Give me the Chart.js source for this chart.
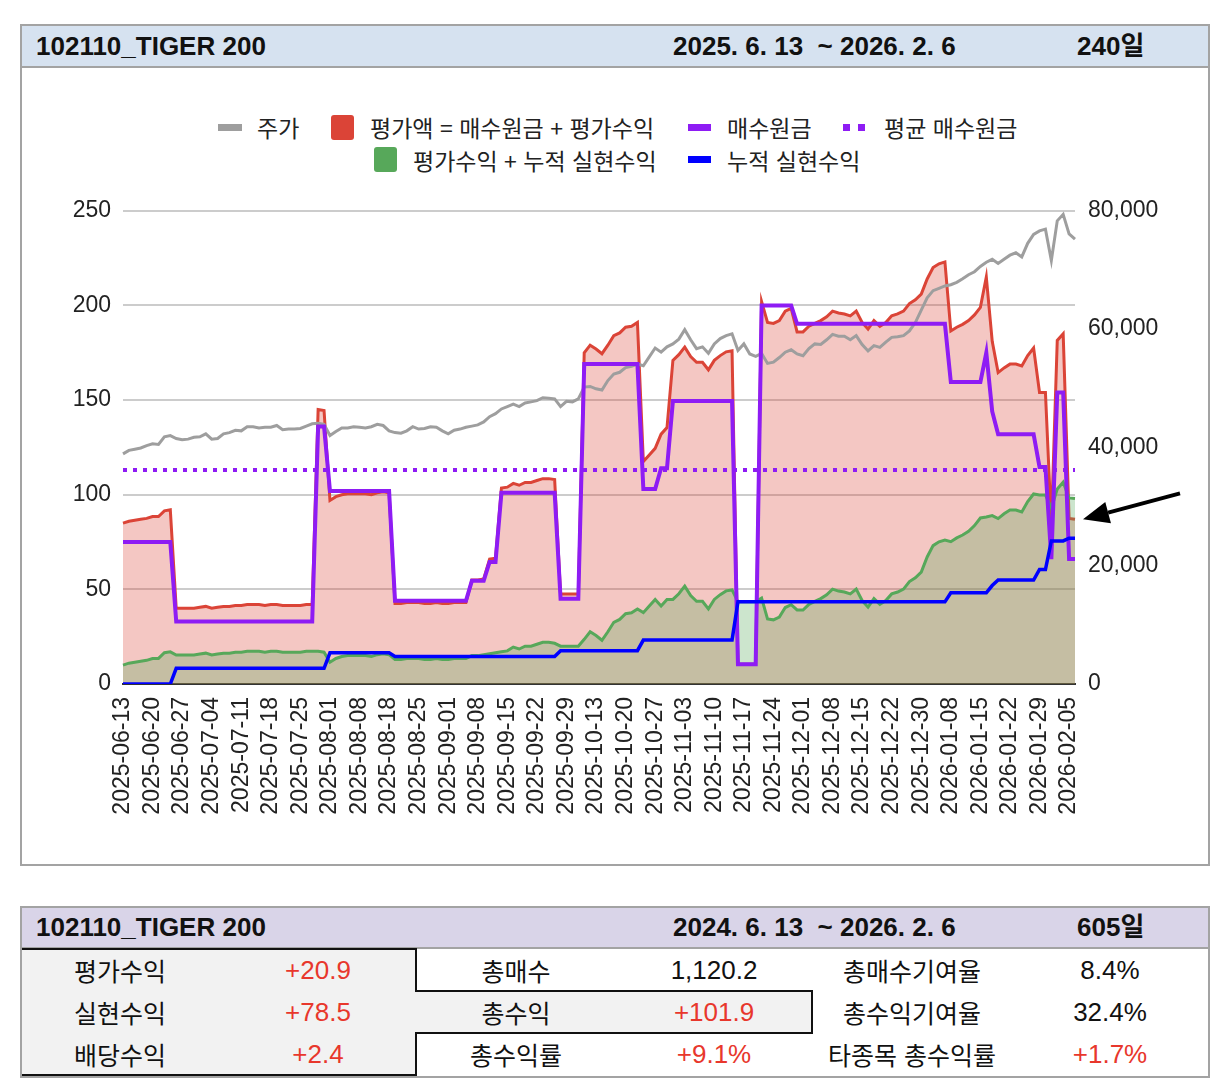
<!DOCTYPE html>
<html lang="ko">
<head>
<meta charset="utf-8">
<title>102110_TIGER 200</title>
<script src="https://cdn.jsdelivr.net/npm/chart.js@4.4.1/dist/chart.umd.min.js"></script>
<style>
body { margin: 0; width: 1228px; height: 1092px; position: relative; background: #fff;
  font-family: "Liberation Sans", Arial, "Noto Sans CJK KR", sans-serif; color: #111; }
.frame { position: absolute; box-sizing: border-box; border: 2px solid #a3a3a3; }
.bar { position: absolute; box-sizing: border-box; border-bottom: 2px solid #a3a3a3; }
.bar span { position: absolute; top: 0; font-size: 26px; font-weight: bold; white-space: nowrap; }
.leg { position: absolute; font-family: "Noto Sans CJK KR", sans-serif; font-size: 23px; color: #222;
  line-height: 24px; white-space: nowrap; }
.mk { position: absolute; }
.cell { position: absolute; width: 198px; height: 42px; line-height: 42px; text-align: center; white-space: nowrap; }
.lbl { font-family: "Noto Sans CJK KR", sans-serif; font-size: 25px; }
.val { font-size: 26px; }
.red { color: #e8372c; }
.ln { position: absolute; background: #111; }
#chart { position: absolute; left: 21px; top: 184px; }
</style>
</head>
<body>

<!-- chart panel -->
<div class="frame" style="left:20px;top:24px;width:1190px;height:842px;"></div>
<div class="bar" style="left:22px;top:26px;width:1186px;height:42px;background:#d6e2f0;">
  <span style="left:14px;line-height:40px;">102110_TIGER 200</span>
  <span style="left:651px;line-height:40px;">2025. 6. 13 &nbsp;~ 2026. 2. 6</span>
  <span style="left:1055px;line-height:40px;">240일</span>
</div>

<!-- legend -->
<div class="mk" style="left:218px;top:124px;width:24px;height:7px;background:#9e9e9e;"></div>
<div class="leg" style="left:257px;top:115px;">주가</div>
<div class="mk" style="left:331px;top:115px;width:23px;height:25px;border-radius:3px;background:#db4437;"></div>
<div class="leg" style="left:370px;top:115px;">평가액 = 매수원금 + 평가수익</div>
<div class="mk" style="left:688px;top:124px;width:23px;height:7px;background:#8e1cf4;"></div>
<div class="leg" style="left:727px;top:115px;">매수원금</div>
<div class="mk" style="left:843px;top:124px;width:7px;height:7px;background:#8e1cf4;"></div>
<div class="mk" style="left:858px;top:124px;width:7px;height:7px;background:#8e1cf4;"></div>
<div class="leg" style="left:884px;top:115px;">평균 매수원금</div>
<div class="mk" style="left:374px;top:147px;width:23px;height:25px;border-radius:3px;background:#57a85a;"></div>
<div class="leg" style="left:413px;top:148px;">평가수익 + 누적 실현수익</div>
<div class="mk" style="left:688px;top:156px;width:23px;height:7px;background:#0000ff;"></div>
<div class="leg" style="left:727px;top:148px;">누적 실현수익</div>

<canvas id="chart" width="1188" height="660"></canvas>

<!-- summary table -->
<div class="frame" style="left:20px;top:906px;width:1190px;height:172px;"></div>
<div class="bar" style="left:22px;top:908px;width:1186px;height:41px;background:#d9d4e8;">
  <span style="left:14px;line-height:39px;">102110_TIGER 200</span>
  <span style="left:651px;line-height:39px;">2024. 6. 13 &nbsp;~ 2026. 2. 6</span>
  <span style="left:1055px;line-height:39px;">605일</span>
</div>
<div style="position:absolute;left:22px;top:949px;width:395px;height:127px;background:#f2f2f2;"></div>
<div style="position:absolute;left:417px;top:991px;width:396px;height:42px;background:#f2f2f2;"></div>
<div class="ln" style="left:22px;top:948px;width:395px;height:2px;"></div>
<div class="ln" style="left:415px;top:948px;width:2px;height:44px;"></div>
<div class="ln" style="left:415px;top:1032px;width:2px;height:44px;"></div>
<div class="ln" style="left:415px;top:990px;width:398px;height:2px;"></div>
<div class="ln" style="left:811px;top:990px;width:2px;height:44px;"></div>
<div class="ln" style="left:415px;top:1032px;width:398px;height:2px;"></div>
<div class="ln" style="left:22px;top:1074px;width:395px;height:2px;"></div>

<div class="cell lbl" style="left:21px;top:949px;">평가수익</div>
<div class="cell val red" style="left:219px;top:949px;">+20.9</div>
<div class="cell lbl" style="left:417px;top:949px;">총매수</div>
<div class="cell val" style="left:615px;top:949px;">1,120.2</div>
<div class="cell lbl" style="left:813px;top:949px;">총매수기여율</div>
<div class="cell val" style="left:1011px;top:949px;">8.4%</div>

<div class="cell lbl" style="left:21px;top:991px;">실현수익</div>
<div class="cell val red" style="left:219px;top:991px;">+78.5</div>
<div class="cell lbl" style="left:417px;top:991px;">총수익</div>
<div class="cell val red" style="left:615px;top:991px;">+101.9</div>
<div class="cell lbl" style="left:813px;top:991px;">총수익기여율</div>
<div class="cell val" style="left:1011px;top:991px;">32.4%</div>

<div class="cell lbl" style="left:21px;top:1033px;">배당수익</div>
<div class="cell val red" style="left:219px;top:1033px;">+2.4</div>
<div class="cell lbl" style="left:417px;top:1033px;">총수익률</div>
<div class="cell val red" style="left:615px;top:1033px;">+9.1%</div>
<div class="cell lbl" style="left:813px;top:1033px;">타종목 총수익률</div>
<div class="cell val red" style="left:1011px;top:1033px;">+1.7%</div>

<script>
// KRX closed days inside the period
const holidays = ['2025-08-15', '2025-10-03', '2025-10-06', '2025-10-07', '2025-10-08',
    '2025-10-09', '2025-12-25', '2025-12-31', '2026-01-01'];

function tradingDays(from, to) {
    const out = [];
    const d = new Date(from + 'T00:00:00Z');
    const end = new Date(to + 'T00:00:00Z');
    while (d <= end) {
        const s = d.toISOString().slice(0, 10);
        const wd = d.getUTCDay();
        if (wd !== 0 && wd !== 6 && !holidays.includes(s)) out.push(s);
        d.setUTCDate(d.getUTCDate() + 1);
    }
    return out;
}

const dates = tradingDays('2025-06-13', '2026-02-06');

// 주가 (right axis)
const price = [
    38900, 39500, 39700, 39900, 40300, 40600, 40500, 41800, 42000, 41500,
    41300, 41400, 41700, 41800, 42300, 41400, 41500, 42300, 42500, 42900,
    42800, 43500, 43500, 43300, 43400, 43400, 43700, 43000, 43100, 43100,
    43200, 43600, 44000, 44100, 43900, 42000, 42700, 43300, 43300, 43500,
    43400, 43300, 43500, 43900, 43700, 42800, 42500, 42400, 42800, 43500,
    43100, 43200, 43500, 43400, 42800, 42300, 42900, 43100, 43400, 43600,
    43800, 44300, 45200, 45700, 46500, 46900, 47300, 46900, 47500, 47700,
    47900, 48400, 48300, 48200, 46900, 47800, 47700, 48200, 50200, 50300,
    49900, 49700, 51300, 52400, 52700, 53500, 53700, 54100, 53800, 55300,
    56800, 56100, 57000, 57500, 58300, 59900, 58200, 56700, 57000, 55900,
    57500, 58400, 58900, 59200, 56400, 57500, 55800, 55400, 55900, 54200,
    54400, 55200, 56100, 56500, 55800, 55500, 56700, 57500, 57400, 58200,
    59100, 58800, 58800, 58200, 58900, 57400, 56300, 57200, 56900, 57800,
    58600, 58700, 58900, 59700, 61100, 63200, 65300, 66500, 66900, 67300,
    67500, 67900, 68500, 69200, 69700, 70600, 71300, 71800, 71100, 71800,
    72500, 72900, 72200, 74500, 76000, 76600, 76900, 71600, 78300, 79400,
    76100, 75200
];

// 평가액 = 매수원금 + 평가수익
const valuation = [
    85, 86, 86.5, 87, 87.5, 88.5, 88.5, 91.5, 92, 40,
    40, 40, 40, 40.5, 41, 40, 40.5, 41, 41, 41.5,
    41.5, 42, 42, 42, 41.5, 42, 42, 41.5, 41.5, 41.5,
    41.5, 42, 42, 145, 144.5, 97, 99, 100, 100.5, 100.5,
    100.5, 100.5, 100, 101, 101.5, 101, 42.5, 42.5, 43, 43,
    43, 42.5, 42.5, 43, 42.5, 42.5, 43, 43, 43, 55,
    55, 55.5, 66, 66.5, 103.5, 104, 106, 105, 106.5, 106.5,
    107.5, 108.5, 108.5, 108, 47.5, 47.5, 47.5, 47.5, 175, 179,
    177, 174.5, 179, 184, 185.5, 188.5, 189, 191, 117.5, 121,
    124.5, 132, 135.5, 171, 174, 178, 173, 170, 170, 166,
    171, 173.5, 175.5, 176, 10.5, 10.5, 10.5, 10.5, 202, 191,
    190.5, 192, 197, 198.5, 186, 186, 189, 190.5, 192, 194,
    197, 196, 195.5, 194.5, 197, 191, 187.5, 192, 189, 191,
    194.5, 195.5, 197, 201, 203, 206, 214, 220, 222, 223,
    186.5, 188.5, 190, 192, 195, 199, 215, 181, 164.5, 167,
    169, 169, 168, 173.5, 177.5, 154, 154, 84, 181.5, 185,
    87.5, 87
];

// 매수원금
const principal = [
    75, 75, 75, 75, 75, 75, 75, 75, 75, 33,
    33, 33, 33, 33, 33, 33, 33, 33, 33, 33,
    33, 33, 33, 33, 33, 33, 33, 33, 33, 33,
    33, 33, 33, 136, 136, 102, 102, 102, 102, 102,
    102, 102, 102, 102, 102, 102, 44, 44, 44, 44,
    44, 44, 44, 44, 44, 44, 44, 44, 44, 54.5,
    54.5, 54.5, 64.5, 64.5, 101, 101, 101, 101, 101, 101,
    101, 101, 101, 101, 45, 45, 45, 45, 169, 169,
    169, 169, 169, 169, 169, 169, 169, 169, 103, 103,
    103, 114, 114, 149.5, 149.5, 149.5, 149.5, 149.5, 149.5, 149.5,
    149.5, 149.5, 149.5, 149.5, 10.5, 10.5, 10.5, 10.5, 200, 200,
    200, 200, 200, 200, 190.3, 190.3, 190.3, 190.3, 190.3, 190.3,
    190.3, 190.3, 190.3, 190.3, 190.3, 190.3, 190.3, 190.3, 190.3, 190.3,
    190.3, 190.3, 190.3, 190.3, 190.3, 190.3, 190.3, 190.3, 190.3, 190.3,
    159.5, 159.5, 159.5, 159.5, 159.5, 159.5, 175, 144, 132, 132,
    132, 132, 132, 132, 132, 114.6, 114.6, 66, 154, 154,
    66, 66
];

// 평균 매수원금
const avgPrincipal = 113;

// 평가수익 + 누적 실현수익
const profitTotal = [
    10, 11, 11.5, 12, 12.5, 13.5, 13.5, 16.5, 17, 15.3,
    15.3, 15.3, 15.3, 15.8, 16.3, 15.3, 15.8, 16.3, 16.3, 16.8,
    16.8, 17.3, 17.3, 17.3, 16.8, 17.3, 17.3, 16.8, 16.8, 16.8,
    16.8, 17.3, 17.3, 17.3, 16.8, 11.5, 13.5, 14.5, 15, 15,
    15, 15, 14.5, 15.5, 16, 15.5, 13, 13, 13.5, 13.5,
    13.5, 13, 13, 13.5, 13, 13, 13.5, 13.5, 13.5, 15,
    15, 15.5, 16, 16.5, 17, 17.5, 19.5, 18.5, 20, 20,
    21, 22, 22, 21.5, 20, 20, 20, 20, 23.6, 27.6,
    25.6, 23.1, 27.6, 32.6, 34.1, 37.1, 37.6, 39.6, 37.7, 41.2,
    44.7, 41.2, 44.7, 44.7, 47.7, 51.7, 46.7, 43.7, 43.7, 39.7,
    44.7, 47.2, 49.2, 49.7, 43.4, 43.4, 43.4, 43.4, 45.4, 34.4,
    33.9, 35.4, 40.4, 41.9, 39.1, 39.1, 42.1, 43.6, 45.1, 47.1,
    50.1, 49.1, 48.6, 47.6, 50.1, 44.1, 40.6, 45.1, 42.1, 44.1,
    47.6, 48.6, 50.1, 54.1, 56.1, 59.1, 67.1, 73.1, 75.1, 76.1,
    75.2, 77.2, 78.7, 80.7, 83.7, 87.7, 88.2, 89, 87.4, 89.9,
    91.9, 91.9, 90.9, 96.4, 100.4, 99.9, 99.9, 93, 103, 106.6,
    98.3, 98
];

// 누적 실현수익
const realized = [
    0, 0, 0, 0, 0, 0, 0, 0, 0, 8.3,
    8.3, 8.3, 8.3, 8.3, 8.3, 8.3, 8.3, 8.3, 8.3, 8.3,
    8.3, 8.3, 8.3, 8.3, 8.3, 8.3, 8.3, 8.3, 8.3, 8.3,
    8.3, 8.3, 8.3, 8.3, 8.3, 16.5, 16.5, 16.5, 16.5, 16.5,
    16.5, 16.5, 16.5, 16.5, 16.5, 16.5, 14.5, 14.5, 14.5, 14.5,
    14.5, 14.5, 14.5, 14.5, 14.5, 14.5, 14.5, 14.5, 14.5, 14.5,
    14.5, 14.5, 14.5, 14.5, 14.5, 14.5, 14.5, 14.5, 14.5, 14.5,
    14.5, 14.5, 14.5, 14.5, 17.6, 17.6, 17.6, 17.6, 17.6, 17.6,
    17.6, 17.6, 17.6, 17.6, 17.6, 17.6, 17.6, 17.6, 23.2, 23.2,
    23.2, 23.2, 23.2, 23.2, 23.2, 23.2, 23.2, 23.2, 23.2, 23.2,
    23.2, 23.2, 23.2, 23.2, 43.4, 43.4, 43.4, 43.4, 43.4, 43.4,
    43.4, 43.4, 43.4, 43.4, 43.4, 43.4, 43.4, 43.4, 43.4, 43.4,
    43.4, 43.4, 43.4, 43.4, 43.4, 43.4, 43.4, 43.4, 43.4, 43.4,
    43.4, 43.4, 43.4, 43.4, 43.4, 43.4, 43.4, 43.4, 43.4, 43.4,
    48.2, 48.2, 48.2, 48.2, 48.2, 48.2, 48.2, 52, 54.9, 54.9,
    54.9, 54.9, 54.9, 54.9, 54.9, 60.5, 60.5, 75.6, 75.6, 75.6,
    77, 77
];

const RED = '#db4437';
const GREEN = '#57a85a';
const PURPLE = '#8e1cf4';
const BLUE = '#0000ff';
const GRAY = '#9e9e9e';
const TICK_FONT = { size: 23 };

Chart.defaults.font.family = '"Liberation Sans", Arial, sans-serif';

// Black arrow pointing at the latest 평가액
const arrowPlugin = {
    id: 'lastValueArrow',
    afterDraw(chart) {
        const ctx = chart.ctx;
        const tipX = chart.chartArea.right + 8;
        const tipY = chart.scales.y.getPixelForValue(valuation[valuation.length - 1]);
        const tailX = tipX + 97;
        const tailY = tipY - 26;
        const ang = Math.atan2(tailY - tipY, tailX - tipX);
        const headLen = 26;
        const headW = 11;
        const bx = tipX + Math.cos(ang) * headLen;
        const by = tipY + Math.sin(ang) * headLen;
        ctx.save();
        ctx.strokeStyle = '#000';
        ctx.fillStyle = '#000';
        ctx.lineWidth = 4;
        ctx.beginPath();
        ctx.moveTo(tailX, tailY);
        ctx.lineTo(bx, by);
        ctx.stroke();
        ctx.beginPath();
        ctx.moveTo(tipX, tipY);
        ctx.lineTo(bx - Math.sin(ang) * headW, by + Math.cos(ang) * headW);
        ctx.lineTo(bx + Math.sin(ang) * headW, by - Math.cos(ang) * headW);
        ctx.closePath();
        ctx.fill();
        ctx.restore();
    }
};

new Chart(document.getElementById('chart').getContext('2d'), {
    type: 'line',
    data: {
        labels: dates,
        datasets: [
            {
                label: '평가액 = 매수원금 + 평가수익',
                data: valuation,
                yAxisID: 'y',
                borderColor: RED,
                backgroundColor: 'rgba(219, 68, 55, 0.3)',
                borderWidth: 3,
                fill: 'origin',
                order: 5
            },
            {
                label: '주가',
                data: price,
                yAxisID: 'y1',
                borderColor: GRAY,
                borderWidth: 3,
                fill: false,
                order: 4
            },
            {
                label: '평가수익 + 누적 실현수익',
                data: profitTotal,
                yAxisID: 'y',
                borderColor: GREEN,
                backgroundColor: 'rgba(87, 168, 90, 0.3)',
                borderWidth: 3,
                fill: 'origin',
                order: 3
            },
            {
                label: '매수원금',
                data: principal,
                yAxisID: 'y',
                borderColor: PURPLE,
                borderWidth: 4,
                fill: false,
                order: 2
            },
            {
                label: '누적 실현수익',
                data: realized,
                yAxisID: 'y',
                borderColor: BLUE,
                borderWidth: 3.5,
                fill: false,
                order: 1
            },
            {
                label: '평균 매수원금',
                data: dates.map(() => avgPrincipal),
                yAxisID: 'y',
                borderColor: PURPLE,
                borderWidth: 4,
                borderDash: [4, 6],
                fill: false,
                order: 0
            }
        ]
    },
    options: {
        responsive: false,
        animation: false,
        layout: { padding: { top: 20, left: 0, right: 0, bottom: 0 } },
        elements: {
            point: { radius: 0, hoverRadius: 0 },
            line: { tension: 0, borderCapStyle: 'butt' }
        },
        plugins: {
            legend: { display: false },
            tooltip: { enabled: false }
        },
        scales: {
            x: {
                type: 'category',
                grid: { display: false, drawTicks: false },
                border: { display: true, color: '#333', width: 2 },
                ticks: {
                    autoSkip: false,
                    maxRotation: 90,
                    minRotation: 90,
                    padding: 13,
                    color: '#222',
                    font: TICK_FONT,
                    callback: function(value, index) {
                        return index % 5 === 0 && index < 161 ? dates[index] : '';
                    }
                },
                afterFit: function(scale) { scale.height = 160; }
            },
            y: {
                position: 'left',
                min: 0,
                max: 250,
                grid: { color: '#cccccc', lineWidth: 2, drawTicks: false },
                border: { display: false },
                ticks: { stepSize: 50, padding: 12, color: '#222', font: TICK_FONT },
                afterFit: function(scale) { scale.width = 102; }
            },
            y1: {
                position: 'right',
                min: 0,
                max: 80000,
                grid: { display: false, drawTicks: false },
                border: { display: false },
                ticks: {
                    stepSize: 20000,
                    padding: 13,
                    color: '#222',
                    font: TICK_FONT,
                    callback: function(value) { return value.toLocaleString('en-US'); }
                },
                afterFit: function(scale) { scale.width = 134; }
            }
        }
    },
    plugins: [arrowPlugin]
});
</script>
</body>
</html>
